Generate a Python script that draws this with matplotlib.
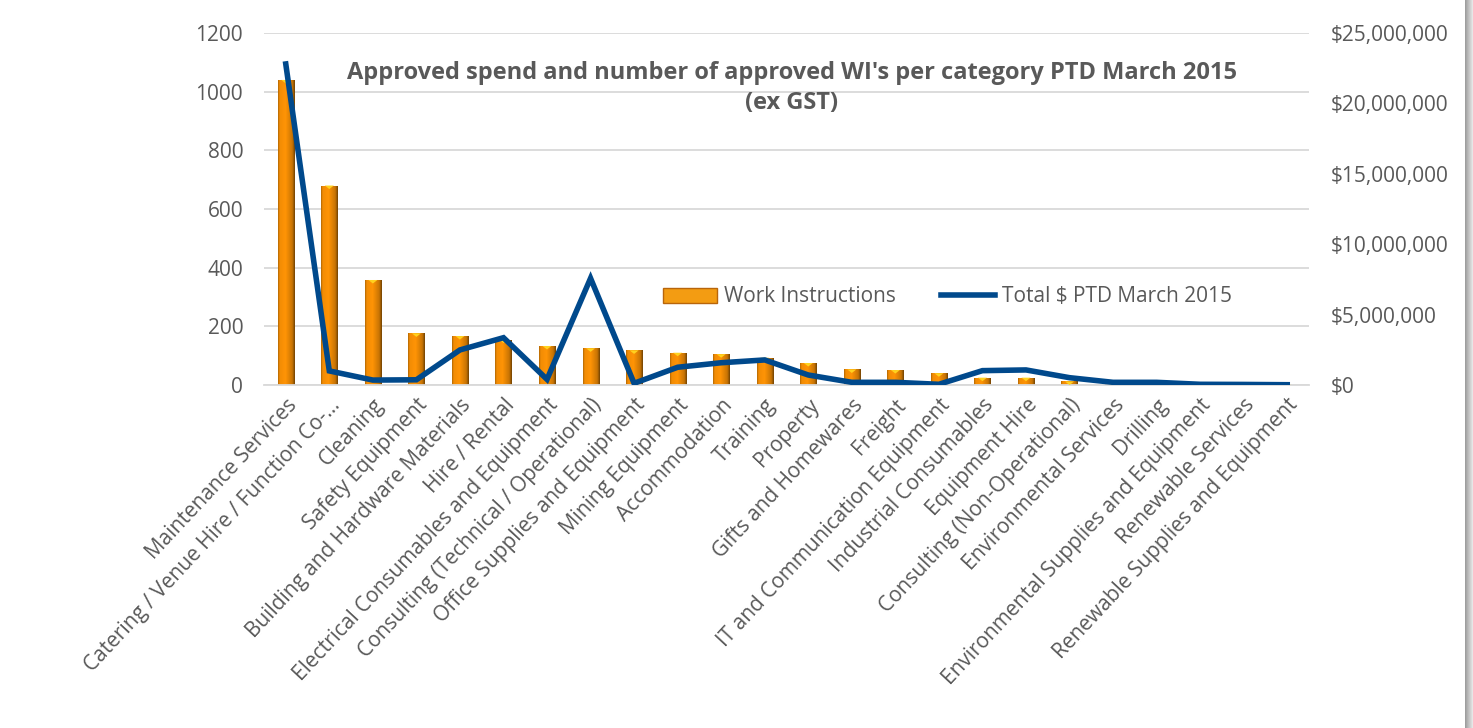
import matplotlib
matplotlib.use("Agg")
from matplotlib import pyplot as plt
from matplotlib.patches import Rectangle
from matplotlib.lines import Line2D
from matplotlib.ticker import FuncFormatter
import numpy as np

categories = [
    "Maintenance Services",
    "Catering / Venue Hire / Function Co-\u2026",
    "Cleaning",
    "Safety Equipment",
    "Building and Hardware Materials",
    "Hire / Rental",
    "Electrical Consumables and Equipment",
    "Consulting (Technical / Operational)",
    "Office Supplies and Equipment",
    "Mining Equipment",
    "Accommodation",
    "Training",
    "Property",
    "Gifts and Homewares",
    "Freight",
    "IT and Communication Equipment",
    "Industrial Consumables",
    "Equipment Hire",
    "Consulting (Non-Operational)",
    "Environmental Services",
    "Drilling",
    "Environmental Supplies and Equipment",
    "Renewable Services",
    "Renewable Supplies and Equipment",
]
work_instructions = [1040, 680, 358, 176, 167, 155, 133, 125, 118, 110, 105, 93,
                     75, 53, 51, 40, 25, 25, 12, 4, 2, 1, 1, 1]
total_spend = [22.8e6, 1.0e6, 0.35e6, 0.37e6, 2.49e6, 3.36e6, 0.40e6, 7.58e6,
               0.12e6, 1.26e6, 1.58e6, 1.78e6, 0.71e6, 0.19e6, 0.19e6, 0.05e6,
               1.02e6, 1.07e6, 0.52e6, 0.19e6, 0.19e6, 0.05e6, 0.04e6, 0.02e6]

title = "Approved spend and number of approved WI's per category PTD March 2015\n(ex GST)"
grey = "#595959"
blue = "#00498C"
fs = 15

plt.rcParams['font.family'] = ['Open Sans', 'DejaVu Sans']

fig = plt.figure(figsize=(14.73, 7.28), dpi=100)
ax = fig.add_axes([264/1473, 1-385/728, 1045/1473, 352/728])
ax2 = ax.twinx()

# bars with a horizontal orange gradient
x = np.arange(len(categories))
bw = 0.37
bars = ax.bar(x, work_instructions, width=bw, color="#E88A0A", zorder=2)
grad = np.linspace(0, 1, 64)
shade = np.interp(grad, [0, 0.1, 0.45, 0.85, 1], [0.7, 0.95, 1.0, 0.78, 0.45])
rgb = np.array([1.0, 0.58, 0.02])
img = (shade[:, None] * rgb[None, :])[None, :, :]
for b in bars:
    x0, w, h = b.get_x(), b.get_width(), b.get_height()
    im = ax.imshow(img, extent=[x0, x0 + w, 0, h], aspect='auto', zorder=2.5)
    im.set_clip_path(b)
    # small yellow wedge at the top of each bar
    th = min(h, 12)
    ax.fill([x0 + w*0.22, x0 + w*0.78, x0 + w*0.5], [h, h, h - th],
            color="#FFD21F", zorder=3, lw=0)

ax.set_xlim(-0.5, len(categories) - 0.5)
ax.set_ylim(0, 1200)
ax.set_yticks(range(0, 1201, 200))
ax.grid(axis='y', color="#D9D9D9", lw=1.3, zorder=0)
ax.set_axisbelow(True)

ax2.plot(x, total_spend, color=blue, lw=4, solid_joinstyle='miter', zorder=4)
ax2.set_ylim(0, 25e6)
ax2.set_yticks(np.arange(0, 25e6 + 1, 5e6))
ax2.yaxis.set_major_formatter(FuncFormatter(lambda v, p: "${:,.0f}".format(v)))
ax.set_zorder(ax2.get_zorder() - 1)
ax.patch.set_visible(False)

for a in (ax, ax2):
    for s in a.spines.values():
        s.set_visible(False)
    a.tick_params(length=0, colors=grey, labelsize=fs)
ax.spines['bottom'].set_visible(True)
ax.spines['bottom'].set_color("#D9D9D9")
ax.spines['bottom'].set_linewidth(1.3)
ax.tick_params(axis='y', pad=15)
ax2.tick_params(axis='y', pad=16)

ax.set_xticks(x)
ax.set_xticklabels(categories, rotation=47, ha='right', rotation_mode='anchor',
                   fontsize=fs, color=grey)
ax.tick_params(axis='x', pad=7)

ax.text(0.505, 0.92, title, transform=ax.transAxes, ha='center', va='top',
        fontsize=17, fontweight='bold', color=grey, linespacing=1.35)

handles = [Rectangle((0, 0), 1, 1, facecolor="#F39C12", edgecolor="#B8650A", lw=1),
           Line2D([0], [0], color=blue, lw=4)]
ax.legend(handles, ["Work Instructions", "Total $ PTD March 2015"], loc='center',
          bbox_to_anchor=(0.654, 0.25), ncol=2, frameon=False, fontsize=fs,
          labelcolor=grey, handlelength=2.6, handletextpad=0.3, columnspacing=2.2)

# right shadow of the chart frame
for i, c in enumerate(np.linspace(0.62, 0.9, 8)):
    fig.patches.append(Rectangle(((1465 + i)/1473, 0), 1/1473, 1, transform=fig.transFigure,
                                 facecolor=str(c), edgecolor='none'))

fig.savefig("out.png", dpi=100)
